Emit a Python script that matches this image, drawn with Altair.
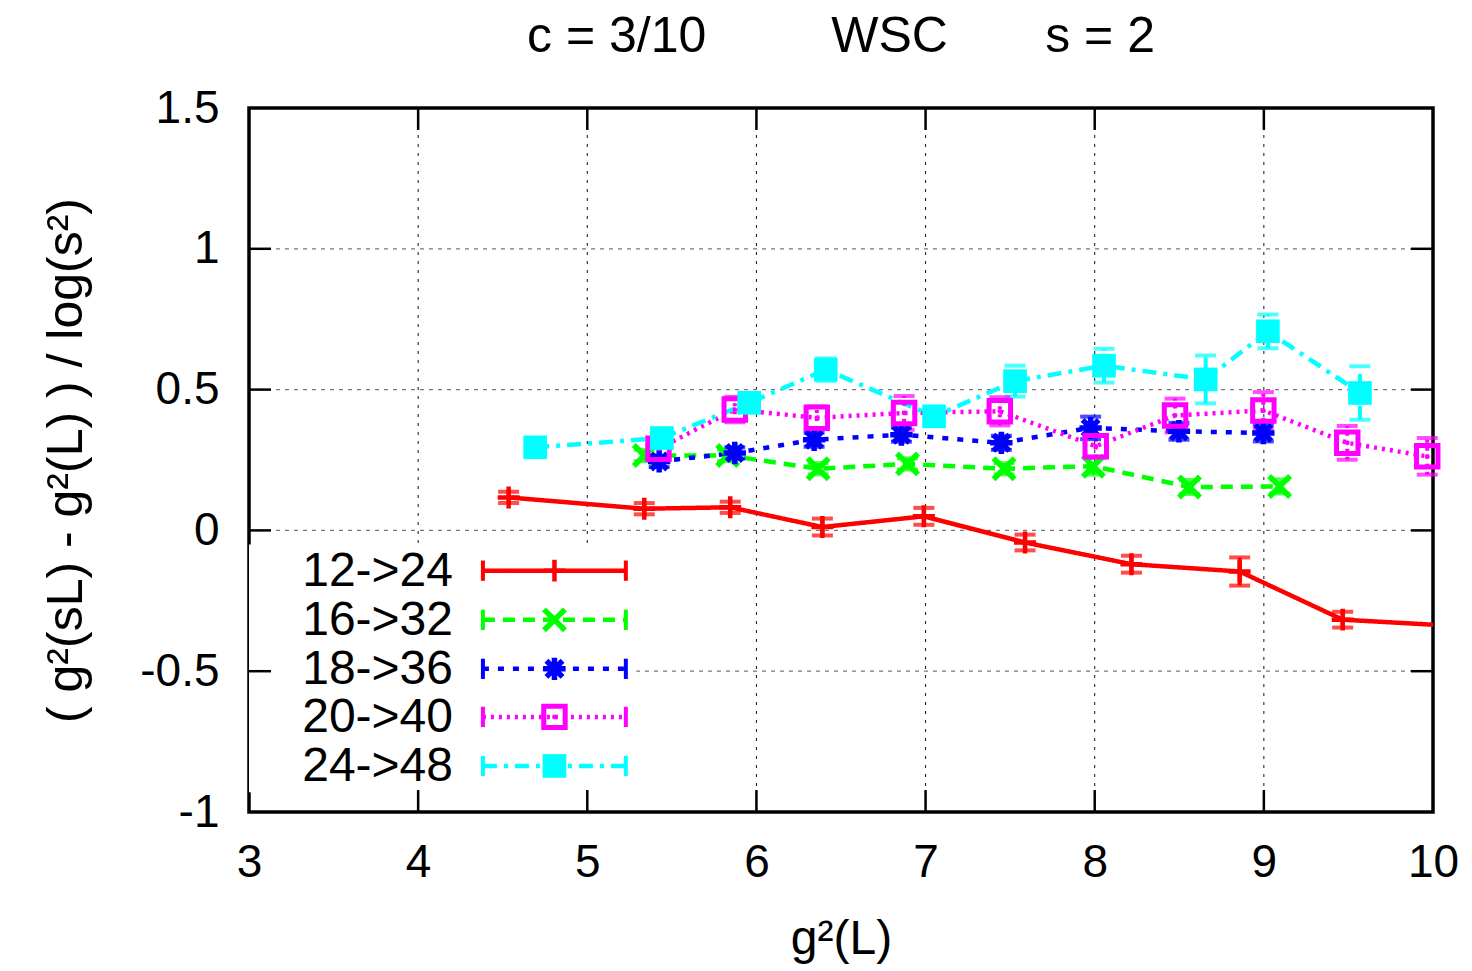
import altair as alt
import pandas as pd

FONT = "Liberation Sans"

series = ["12->24", "16->32", "18->36", "20->40", "24->48"]
colors = ["#ff0000", "#00ff00", "#0000ff", "#ff00ff", "#00ffff"]
dashes = [[1, 0], [12, 8], [6, 9], [3, 5], [14, 7, 4, 7]]

# 12->24 (last point lies beyond the x range and is clipped)
x_12 = [4.535, 5.337, 5.845, 6.39, 6.99, 7.588, 8.217, 8.857, 9.466, 10.3]
y_12 = [0.117, 0.077, 0.082, 0.012, 0.050, -0.043, -0.120, -0.146, -0.317, -0.345]
e_12 = [0.02, 0.02, 0.02, 0.03, 0.03, 0.028, 0.03, 0.05, 0.028, 0.03]

# 16->32
x_16 = [5.337, 5.83, 6.365, 6.893, 7.464, 7.992, 8.56, 9.093]
y_16 = [0.266, 0.266, 0.219, 0.236, 0.219, 0.228, 0.154, 0.156]
e_16 = [0.02, 0.02, 0.02, 0.02, 0.02, 0.03, 0.025, 0.025]

# 18->36
x_18 = [5.425, 5.872, 6.341, 6.857, 7.448, 7.976, 8.498, 8.997]
y_18 = [0.245, 0.275, 0.322, 0.340, 0.311, 0.364, 0.352, 0.346]
e_18 = [0.02, 0.02, 0.025, 0.025, 0.025, 0.04, 0.03, 0.03]

# 20->40
x_20 = [5.421, 5.872, 6.357, 6.873, 7.439, 8.006, 8.475, 8.997, 9.493, 9.966]
y_20 = [0.290, 0.429, 0.400, 0.417, 0.423, 0.299, 0.408, 0.426, 0.311, 0.263]
e_20 = [0.03, 0.045, 0.04, 0.06, 0.05, 0.04, 0.06, 0.065, 0.06, 0.065]

# 24->48
x_24 = [4.692, 5.441, 5.957, 6.41, 7.05, 7.529, 8.055, 8.656, 9.024, 9.568]
y_24 = [0.295, 0.328, 0.453, 0.571, 0.405, 0.530, 0.585, 0.536, 0.707, 0.488]
e_24 = [0.02, 0.03, 0.03, 0.04, 0.03, 0.055, 0.06, 0.085, 0.06, 0.095]

xs = [x_12, x_16, x_18, x_20, x_24]
ys = [y_12, y_16, y_18, y_20, y_24]
es = [e_12, e_16, e_18, e_20, e_24]

x_ticks = [3, 4, 5, 6, 7, 8, 9, 10]
y_ticks = [-1, -0.5, 0, 0.5, 1, 1.5]

rows = []
for s, xa, ya, ea in zip(series, xs, ys, es):
    for xv, yv, ev in zip(xa, ya, ea):
        rows.append({"series": s, "x": xv, "y": yv, "lo": yv - ev, "hi": yv + ev})
df = pd.DataFrame(rows)

# legend layout (data units)
leg_rows = [-0.143, -0.3175, -0.4916, -0.6622, -0.8364]
leg = pd.DataFrame({
    "series": series,
    "y": leg_rows,
    "tx": [4.206] * 5,
    "x1": [4.383] * 5,
    "x2": [5.228] * 5,
    "xm": [4.806] * 5,
})
leg["lo"] = leg["y"] - 0.036
leg["hi"] = leg["y"] + 0.036

X = alt.Scale(domain=[3, 10], nice=False, zero=False)
Y = alt.Scale(domain=[-1, 1.5], nice=False, zero=False)
COL = alt.Scale(domain=series, range=colors)
DASH = alt.Scale(domain=series, range=dashes)

base = alt.Chart(df)

xenc = alt.X("x:Q", scale=X, axis=alt.Axis(
    values=x_ticks, title="g²(L)", grid=False, ticks=False, tickSize=0, domain=False,
    labelFontSize=46, labelFont=FONT, labelColor="black", labelPadding=28,
    labelExpr="toString(datum.value)",
    titleFontSize=48, titleFont=FONT, titleFontWeight="normal", titleColor="black",
    titlePadding=30, labelFlush=False))
yenc = alt.Y("y:Q", scale=Y, axis=alt.Axis(
    values=y_ticks, title="( g²(sL) - g²(L) ) / log(s²)", grid=False, ticks=False,
    tickSize=0, domain=False, labelFontSize=46, labelFont=FONT, labelColor="black",
    labelPadding=30, labelExpr="toString(datum.value)", titleFontSize=50,
    titleFont=FONT, titleFontWeight="normal", titleColor="black", titlePadding=48,
    labelFlush=False))

# grid lines (interior only)
gx = pd.DataFrame({"a": x_ticks[1:-1]})
gy = pd.DataFrame({"c": y_ticks[1:-1]})
grid_x = alt.Chart(gx).mark_rule(color="#111", strokeWidth=1, strokeDash=[3, 6]).encode(
    x=alt.X("a:Q", scale=X), y=alt.value(0), y2=alt.value(704))
grid_y = alt.Chart(gy).mark_rule(color="#777", strokeWidth=1.2, strokeDash=[4, 5]).encode(
    y=alt.Y("c:Q", scale=Y), x=alt.value(0), x2=alt.value(1184))

# white key box
box = alt.Chart(pd.DataFrame({"a": [3.0], "b": [5.29], "c": [-0.05], "d": [-0.93]})).mark_rect(
    color="white").encode(x=alt.X("a:Q", scale=X), x2="b:Q", y=alt.Y("c:Q", scale=Y), y2="d:Q")

# inward ticks (mirror on all sides)
tk = []
for yt in y_ticks[1:-1]:
    tk.append({"a": 3.0, "b": 3.13, "c": yt, "d": yt})
    tk.append({"a": 9.87, "b": 10.0, "c": yt, "d": yt})
for xt in x_ticks[1:-1]:
    tk.append({"a": xt, "b": xt, "c": -1.0, "d": -0.922})
    tk.append({"a": xt, "b": xt, "c": 1.422, "d": 1.5})
ticks = alt.Chart(pd.DataFrame(tk)).mark_rule(color="black", strokeWidth=2.5).encode(
    x=alt.X("a:Q", scale=X), x2="b:Q", y=alt.Y("c:Q", scale=Y), y2="d:Q")

lines = base.mark_line(strokeWidth=4.5, clip=True).encode(
    x=xenc, y=yenc,
    color=alt.Color("series:N", scale=COL, legend=None),
    strokeDash=alt.StrokeDash("series:N", scale=DASH, legend=None),
    detail="series:N",
)

inr = base.transform_filter("datum.x <= 10")
err = inr.mark_rule(strokeWidth=4).encode(
    x=alt.X("x:Q", scale=X), y=alt.Y("lo:Q", scale=Y), y2="hi:Q",
    color=alt.Color("series:N", scale=COL, legend=None),
    strokeDash=alt.StrokeDash("series:N", scale=DASH, legend=None),
)
cap_lo = inr.mark_tick(orient="horizontal", size=21, thickness=4).encode(
    x=alt.X("x:Q", scale=X), y=alt.Y("lo:Q", scale=Y),
    color=alt.Color("series:N", scale=COL, legend=None))
cap_hi = inr.mark_tick(orient="horizontal", size=21, thickness=4).encode(
    x=alt.X("x:Q", scale=X), y=alt.Y("hi:Q", scale=Y),
    color=alt.Color("series:N", scale=COL, legend=None))

PLUS = "M-1,0L1,0M0,-1L0,1"
CROSS = "M-1,-1L1,1M-1,1L1,-1"
STAR = "M-1,0L1,0M0,-1L0,1M-0.72,-0.72L0.72,0.72M-0.72,0.72L0.72,-0.72"


def markers(src, xf):
    out = []
    specs = [
        (0, dict(shape=PLUS, filled=False, size=480, strokeWidth=4.5)),
        (1, dict(shape=CROSS, filled=False, size=440, strokeWidth=5.5)),
        (2, dict(shape=STAR, filled=False, size=500, strokeWidth=5.5)),
        (3, dict(shape="square", filled=False, size=460, strokeWidth=5)),
        (3, dict(shape="circle", filled=True, size=22, strokeWidth=0)),
        (4, dict(shape="square", filled=True, size=560, strokeWidth=0)),
    ]
    for i, kw in specs:
        out.append(src.transform_filter(alt.datum.series == series[i]).mark_point(
            opacity=1, color=colors[i], **kw).encode(
            x=alt.X(xf, scale=X), y=alt.Y("y:Q", scale=Y)))
    return out


pts = markers(inr, "x:Q")

lb = alt.Chart(leg)
leg_text = lb.mark_text(align="right", baseline="middle", fontSize=48, font=FONT,
                        color="black", dy=1).encode(
    x=alt.X("tx:Q", scale=X), y=alt.Y("y:Q", scale=Y), text="series:N")
leg_line = lb.mark_rule(strokeWidth=4.5).encode(
    x=alt.X("x1:Q", scale=X), x2="x2:Q", y=alt.Y("y:Q", scale=Y),
    color=alt.Color("series:N", scale=COL, legend=None),
    strokeDash=alt.StrokeDash("series:N", scale=DASH, legend=None))
leg_c1 = lb.mark_rule(strokeWidth=4).encode(
    x=alt.X("x1:Q", scale=X), y=alt.Y("lo:Q", scale=Y), y2="hi:Q",
    color=alt.Color("series:N", scale=COL, legend=None))
leg_c2 = lb.mark_rule(strokeWidth=4).encode(
    x=alt.X("x2:Q", scale=X), y=alt.Y("lo:Q", scale=Y), y2="hi:Q",
    color=alt.Color("series:N", scale=COL, legend=None))
leg_pts = markers(lb, "xm:Q")

title = alt.TitleParams(
    text="c = 3/10" + "\u00a0" * 9 + "WSC" + "\u00a0" * 7 + "s = 2",
    fontSize=50, font=FONT, fontWeight="normal", color="black",
    anchor="middle", frame="group", offset=23)

chart = alt.layer(
    grid_x, grid_y, lines, box, ticks, err, cap_lo, cap_hi, *pts,
    leg_text, leg_line, leg_c1, leg_c2, *leg_pts,
).properties(
    width=1184, height=704, title=title, background="white",
    padding={"left": 41, "top": 12, "right": 5, "bottom": 5},
).configure_view(stroke="black", strokeWidth=3.5)

chart.save("out.html", embed_options={"renderer": "svg", "actions": False})
